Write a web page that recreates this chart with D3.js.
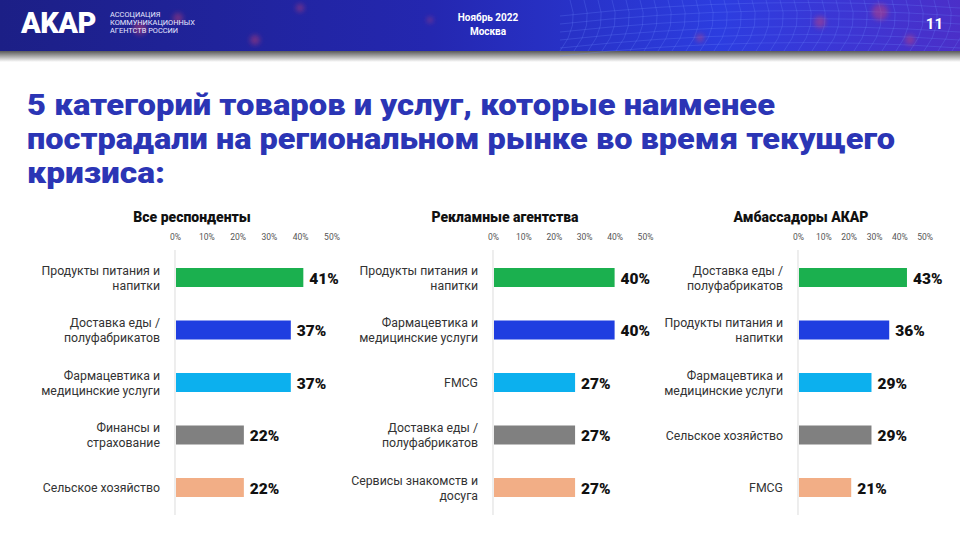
<!DOCTYPE html>
<html lang="ru">
<head>
<meta charset="UTF-8" />
<title>5 категорий товаров и услуг</title>
<script src="https://d3js.org/d3.v7.min.js"></script>
<style>
  body { margin: 0; background: #fff; }
  svg { display: block; font-family: Roboto, "Noto Sans", sans-serif; }
</style>
</head>
<body>
<svg id="chart" width="960" height="539"></svg>
<script>
// data
const panelTitles = ["Все респонденты", "Рекламные агентства", "Амбассадоры АКАР"];
const allCats = ["Продукты питания и\nнапитки", "Доставка еды /\nполуфабрикатов", "Фармацевтика и\nмедицинские услуги", "Финансы и\nстрахование", "Сельское хозяйство"];
const allVals = [41, 37, 37, 22, 22];
const agencyCats = ["Продукты питания и\nнапитки", "Фармацевтика и\nмедицинские услуги", "FMCG", "Доставка еды /\nполуфабрикатов", "Сервисы знакомств и\nдосуга"];
const agencyVals = [40, 40, 27, 27, 27];
const ambCats = ["Доставка еды /\nполуфабрикатов", "Продукты питания и\nнапитки", "Фармацевтика и\nмедицинские услуги", "Сельское хозяйство", "FMCG"];
const ambVals = [43, 36, 29, 29, 21];
const tickVals = [0, 10, 20, 30, 40, 50];
const barColors = ["#1bb04f", "#1f3ee0", "#0cb0ee", "#808080", "#f2ae86"];

const svg = d3.select("#chart");

// header band
const defs = svg.append("defs");
const hg = defs.append("linearGradient").attr("id", "hdr");
hg.append("stop").attr("offset", "0%").attr("stop-color", "#1c1f86");
hg.append("stop").attr("offset", "45%").attr("stop-color", "#2427b0");
hg.append("stop").attr("offset", "75%").attr("stop-color", "#2c3de0");
hg.append("stop").attr("offset", "100%").attr("stop-color", "#4b2fc8");
const sg = defs.append("linearGradient").attr("id", "shadow").attr("x2", 0).attr("y2", 1);
sg.append("stop").attr("offset", "0%").attr("stop-color", "#4a4a4a");
sg.append("stop").attr("offset", "100%").attr("stop-color", "#ffffff");
const blur = defs.append("filter").attr("id", "blur");
blur.append("feGaussianBlur").attr("stdDeviation", 2.5);

svg.append("rect").attr("x", 0).attr("y", 50).attr("width", 960).attr("height", 12).attr("fill", "url(#shadow)");
svg.append("rect").attr("width", 960).attr("height", 51).attr("fill", "url(#hdr)");

// faint grid and glow dots in the header
const grid = svg.append("g").attr("stroke", "#6f8cff").attr("stroke-opacity", 0.35).attr("stroke-width", 0.7).attr("fill", "none");
d3.range(560, 960, 14).forEach(x => {
  grid.append("path").attr("d", `M${x},51 Q${x + 20},25 ${x + 10},0`);
});
d3.range(4, 51, 8).forEach(y => {
  grid.append("path").attr("d", `M560,${y + 12} Q760,${y - 10} 960,${y + 4}`);
});
const glow = [[140, 28, 7], [178, 18, 5], [255, 40, 5], [300, 8, 4], [430, 20, 3], [700, 38, 4], [820, 22, 6], [880, 12, 8], [910, 40, 5]];
svg.append("g").attr("filter", "url(#blur)").selectAll("circle").data(glow).enter().append("circle")
  .attr("cx", d => d[0]).attr("cy", d => d[1]).attr("r", d => d[2])
  .attr("fill", "#d0406e").attr("fill-opacity", 0.45);

svg.append("text").attr("x", 21).attr("y", 33).attr("fill", "#fff")
  .attr("font-size", 29).attr("font-weight", 900).attr("letter-spacing", -0.5).text("AKAP");
["АССОЦИАЦИЯ", "КОММУНИКАЦИОННЫХ", "АГЕНТСТВ РОССИИ"].forEach((t, i) => {
  svg.append("text").attr("x", 110).attr("y", 17 + i * 8).attr("fill", "#e8e8ff")
    .attr("font-size", 7.4).text(t);
});
svg.append("text").attr("x", 488).attr("y", 21).attr("text-anchor", "middle").attr("fill", "#fff")
  .attr("font-size", 10).attr("font-weight", 700).text("Ноябрь 2022");
svg.append("text").attr("x", 488).attr("y", 35).attr("text-anchor", "middle").attr("fill", "#fff")
  .attr("font-size", 10).attr("font-weight", 700).text("Москва");
svg.append("text").attr("x", 943).attr("y", 29).attr("text-anchor", "end").attr("fill", "#fff")
  .attr("font-size", 15).attr("font-weight", 700).text("11");

// title
const titleLines = ["5 категорий товаров и услуг, которые наименее",
  "пострадали на региональном рынке во время текущего", "кризиса:"];
const titleWidths = [748, 868, 138];
titleLines.forEach((t, i) => {
  svg.append("text").attr("x", 27).attr("y", 115 + i * 34).attr("fill", "#2b35b5")
    .attr("font-size", 29).attr("font-weight", 900)
    .attr("textLength", titleWidths[i]).attr("lengthAdjust", "spacingAndGlyphs").text(t);
});

// panels
const panels = [
  { title: panelTitles[0], cats: allCats, vals: allVals, x0: 175, w: 156.5, tx: 192 },
  { title: panelTitles[1], cats: agencyCats, vals: agencyVals, x0: 493, w: 152, tx: 505 },
  { title: panelTitles[2], cats: ambCats, vals: ambVals, x0: 798, w: 126.7, tx: 801 }
];

const barH = 19;

panels.forEach(p => {
  const g = svg.append("g");
  const x = d3.scaleLinear().domain([0, 50]).range([p.x0, p.x0 + p.w]);
  const y = d3.scalePoint().domain(p.cats).range([277.5, 487.5]);

  g.append("text").attr("x", p.tx).attr("y", 222).attr("text-anchor", "middle")
    .attr("font-size", 14).attr("font-weight", 900).attr("fill", "#111").text(p.title);

  const axis = g.append("g").attr("transform", "translate(0,243)")
    .call(d3.axisTop(x).tickValues(tickVals).tickFormat(d => d + "%").tickSize(0));
  axis.select(".domain").remove();
  axis.selectAll("text").attr("font-size", 8.5).attr("fill", "#555").attr("font-family", "Roboto, sans-serif");

  g.append("line").attr("x1", x(0)).attr("x2", x(0)).attr("y1", 250).attr("y2", 515)
    .attr("stroke", "#e2e2e2").attr("stroke-width", 1.2);

  g.selectAll("rect.bar").data(p.vals).enter().append("rect")
    .attr("class", "bar")
    .attr("x", x(0) + 1)
    .attr("y", (d, i) => y(p.cats[i]) - barH / 2)
    .attr("width", d => x(d) - x(0) - 1)
    .attr("height", barH)
    .attr("fill", (d, i) => barColors[i]);

  g.selectAll("text.val").data(p.vals).enter().append("text")
    .attr("class", "val")
    .attr("x", d => x(d) + 6)
    .attr("y", (d, i) => y(p.cats[i]) + 6)
    .attr("font-size", 15.5).attr("font-weight", 900).attr("fill", "#111")
    .text(d => d + "%");

  p.cats.forEach(c => {
    const lines = c.split("\n");
    const t = g.append("text").attr("text-anchor", "end").attr("font-size", 12.3)
      .attr("fill", "#333");
    lines.forEach((ln, j) => {
      t.append("tspan").attr("x", x(0) - 15)
        .attr("y", y(c) + 4.5 + (j - (lines.length - 1) / 2) * 15)
        .text(ln);
    });
  });
});
</script>
</body>
</html>
